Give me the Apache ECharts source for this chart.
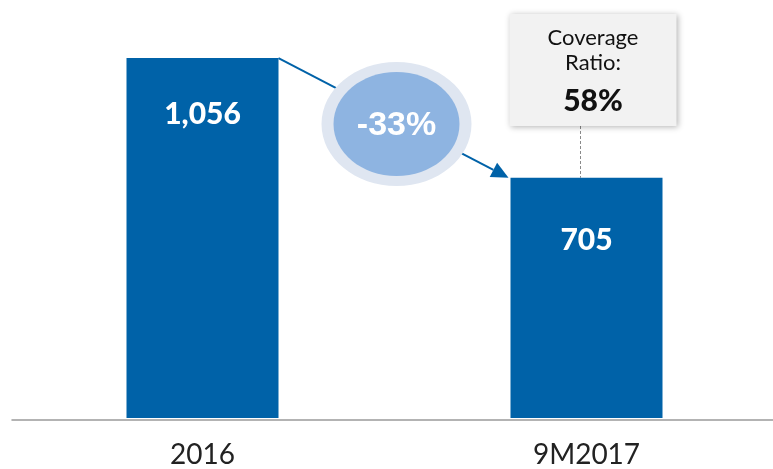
<!DOCTYPE html>
<html>
<head>
    <meta charset="utf-8">
    <title>Coverage</title>
    <script src="https://cdn.jsdelivr.net/npm/echarts@6/dist/echarts.min.js"></script>
    <style type="text/css">
        html, body { margin: 0; padding: 0; background: #fff; }
        #main { width: 773px; height: 469px; }
    </style>
</head>
<body>
    <div id="main"></div>
    <script>
        // data
        var categories = ['2016', '9M2017'];
        var values = [1056, 705];
        var valueLabels = ['1,056', '705'];
        var changeLabel = '-33%';
        var coverageLines = ['Coverage', 'Ratio:'];
        var coverageValue = '58%';

        var blue = '#0062a8';
        var barWidth = 152;

        var myChart = echarts.init(document.getElementById('main'));
        var option = {
            animation: false,
            grid: [
                // bars: category ticks sit on the bar centres
                { left: 202.5, right: 186.5, top: 9, bottom: 49 },
                // full-width baseline
                { left: 12, right: 0, top: 9, bottom: 49 }
            ],
            xAxis: [{
                type: 'category',
                gridIndex: 0,
                data: categories,
                boundaryGap: false,
                axisTick: { show: false },
                axisLine: { show: false },
                axisLabel: {
                    margin: 23,
                    fontFamily: 'Lato',
                    fontSize: 28,
                    color: '#222'
                }
            }, {
                type: 'value',
                gridIndex: 1,
                min: 0,
                max: 1,
                axisTick: { show: false },
                axisLabel: { show: false },
                splitLine: { show: false },
                axisLine: { show: true, lineStyle: { color: '#9a9a9a', width: 1.5 } }
            }],
            yAxis: [{
                type: 'value',
                gridIndex: 0,
                min: 0,
                max: 1200,
                show: false
            }, {
                type: 'value',
                gridIndex: 1,
                min: 0,
                max: 1,
                show: false
            }],
            series: [{
                type: 'bar',
                xAxisIndex: 0,
                yAxisIndex: 0,
                barWidth: barWidth,
                z: 3,
                itemStyle: { color: blue },
                data: values.map(function (v, i) {
                    return {
                        value: v,
                        label: { distance: i === 0 ? 41 : 48 }
                    };
                }),
                label: {
                    show: true,
                    position: 'insideTop',
                    color: '#fff',
                    fontFamily: 'Lato',
                    fontWeight: 900,
                    fontSize: 30,
                    formatter: function (p) { return valueLabels[p.dataIndex]; }
                }
            }]
        };
        myChart.setOption(option);

        // arrow between bars, change bubble and coverage box
        var p1 = myChart.convertToPixel({ seriesIndex: 0 }, [0, values[0]]);
        var p2 = myChart.convertToPixel({ seriesIndex: 0 }, [1, values[1]]);
        var sx = p1[0] + barWidth / 2, sy = p1[1];
        var ex = p2[0] - barWidth / 2 - 2, ey = p2[1];
        var ang = Math.atan2(ey - sy, ex - sx);
        var ah = 17, aw = 8;
        var bx = ex - ah * Math.cos(ang), by = ey - ah * Math.sin(ang);
        var nx = -Math.sin(ang), ny = Math.cos(ang);
        var cx = (sx + ex) / 2 + 3, cy = (sy + ey) / 2 + 6;
        var boxW = 167, boxH = 112, boxL = p2[0] - 77, boxT = 14;

        myChart.setOption({
            graphic: [
                {
                    type: 'line',
                    shape: { x1: sx, y1: sy, x2: bx, y2: by },
                    style: { stroke: blue, lineWidth: 2 }
                },
                {
                    type: 'polygon',
                    shape: { points: [[ex, ey], [bx + nx * aw, by + ny * aw], [bx - nx * aw, by - ny * aw]] },
                    style: { fill: blue }
                },
                {
                    type: 'ellipse',
                    shape: { cx: cx, cy: cy, rx: 75, ry: 62 },
                    style: { fill: '#dfe6f1' }
                },
                {
                    type: 'ellipse',
                    shape: { cx: cx, cy: cy, rx: 63, ry: 52 },
                    style: { fill: '#8eb4e1' }
                },
                {
                    type: 'text',
                    x: cx, y: cy + 2,
                    style: {
                        text: changeLabel,
                        fill: '#fff',
                        font: 'bold 34px "Liberation Sans", Arial, sans-serif',
                        align: 'center',
                        verticalAlign: 'middle'
                    }
                },
                {
                    type: 'line',
                    shape: { x1: p2[0] - 6, y1: boxT + boxH, x2: p2[0] - 6, y2: p2[1] },
                    style: { stroke: '#8a8a8a', lineWidth: 1, lineDash: [3, 2] }
                },
                {
                    type: 'rect',
                    shape: { x: boxL, y: boxT, width: boxW, height: boxH },
                    style: {
                        fill: '#f2f2f2',
                        shadowBlur: 6,
                        shadowColor: 'rgba(0,0,0,0.3)',
                        shadowOffsetX: 1,
                        shadowOffsetY: 1
                    }
                },
                {
                    type: 'text',
                    x: boxL + boxW / 2, y: boxT + 24,
                    style: {
                        text: coverageLines[0],
                        fill: '#111',
                        font: '22px Lato, sans-serif',
                        align: 'center', verticalAlign: 'middle'
                    }
                },
                {
                    type: 'text',
                    x: boxL + boxW / 2, y: boxT + 49,
                    style: {
                        text: coverageLines[1],
                        fill: '#111',
                        font: '22px Lato, sans-serif',
                        align: 'center', verticalAlign: 'middle'
                    }
                },
                {
                    type: 'text',
                    x: boxL + boxW / 2, y: boxT + 87,
                    style: {
                        text: coverageValue,
                        fill: '#111',
                        font: '900 30px Lato, sans-serif',
                        align: 'center', verticalAlign: 'middle'
                    }
                }
            ]
        });
    </script>
</body>
</html>
